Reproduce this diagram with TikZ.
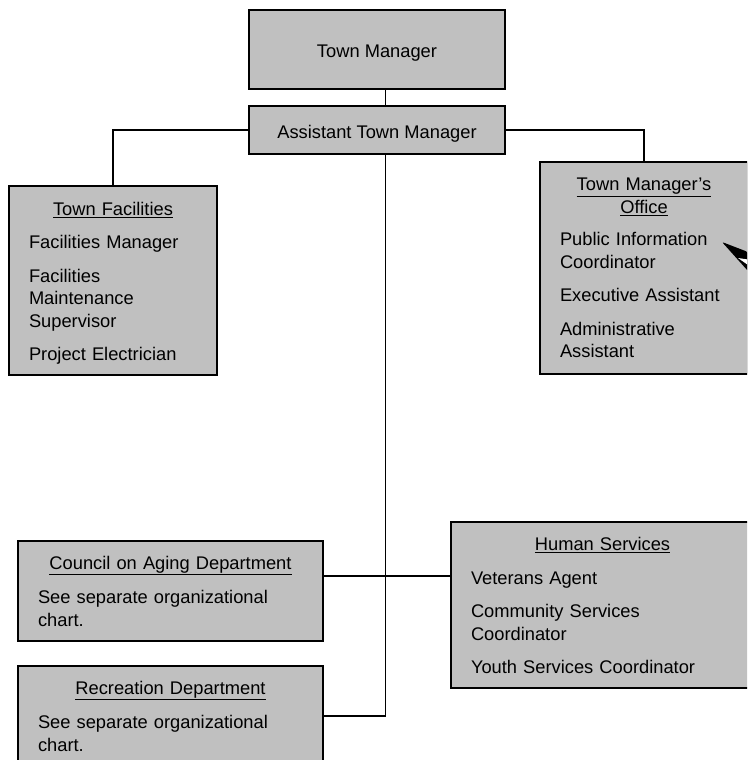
\documentclass[tikz,border=0pt]{standalone}
\usepackage{fontspec}
\setmainfont{Liberation Sans}
\usepackage{tikz}
\definecolor{boxgray}{RGB}{192,192,192}
\newcommand{\ttl}[1]{\makebox[\linewidth]{\underline{#1}}}

\begin{document}
\begin{tikzpicture}[x=1pt, y=-1pt]
                  \tikzstyle{unit}=[draw=black, fill=boxgray, line width=1.8pt, inner sep=0pt, font=\fontsize{18.3}{22.5}\selectfont]
                  \tikzstyle{head}=[unit, text height=16pt, text depth=0pt]
                  \tikzstyle{dept}=[unit, inner xsep=20pt, align=left]
                  \tikzstyle{link}=[line width=1.5pt]

                  \useasboundingbox (0,0) rectangle (747,760);
                  \clip (0,0) rectangle (747,760);

                  \coordinate (spine) at (385.5,0);
                  \coordinate (hub) at (385.5,576);

                  \node[head, minimum width=256pt, minimum height=79pt] (TM) at (377,49.5) {Town Manager};
                  \node[head, minimum width=256pt, minimum height=48pt] (ATM) at (377,130) {Assistant Town Manager};

                  \node[dept, minimum width=208pt, minimum height=189pt, text width=168pt] (TF) at (113,280.5)
                    {\rule{0pt}{19pt}\ttl{Town Facilities}\\[11pt]
                     Facilities Manager\\[11pt]
                     Facilities\\ Maintenance\\ Supervisor\\[11pt]
                     Project Electrician};
                  \node[dept, minimum width=208pt, minimum height=212pt, text width=168pt] (TMO) at (644,268)
                    {\ttl{Town Manager’s}\\ \ttl{Office}\\[10pt]
                     Public Information\\ Coordinator\\[11pt]
                     Executive Assistant\\[11pt]
                     Administrative\\ Assistant};
                  \node[dept, minimum width=303pt, minimum height=166pt, text width=263pt] (HS) at (602.5,605)
                    {\rule{0pt}{15pt}\ttl{Human Services}\\[11pt]
                     Veterans Agent\\[11pt]
                     Community Services\\ Coordinator\\[11pt]
                     Youth Services Coordinator};
                  \node[dept, minimum width=305pt, minimum height=100pt, text width=265pt] (COA) at (170.5,591)
                    {\ttl{Council on Aging Department}\\[12pt]
                     See separate organizational\\ chart.};
                  \node[dept, minimum width=305pt, minimum height=100pt, text width=265pt] (REC) at (170.5,716)
                    {\ttl{Recreation Department}\\[12pt]
                     See separate organizational\\ chart.};

                  \draw[link] (TM.south -| spine) -- (ATM.north -| spine);
                  \draw[link] (ATM.west) -| (TF.north);
                  \draw[link] (ATM.east) -| (TMO.north);
                  \draw[link] (ATM.south -| spine) |- (REC.east);
                  \draw[link] (COA.east |- hub) -- (HS.west |- hub);

                  \fill[black, rounded corners=2pt] (722,242) -- (748,252) -- (748,271) -- cycle;
                  \fill[white] (738,258) -- (748,259.5) -- (748,265) -- cycle;
                \end{tikzpicture}
\end{document}
